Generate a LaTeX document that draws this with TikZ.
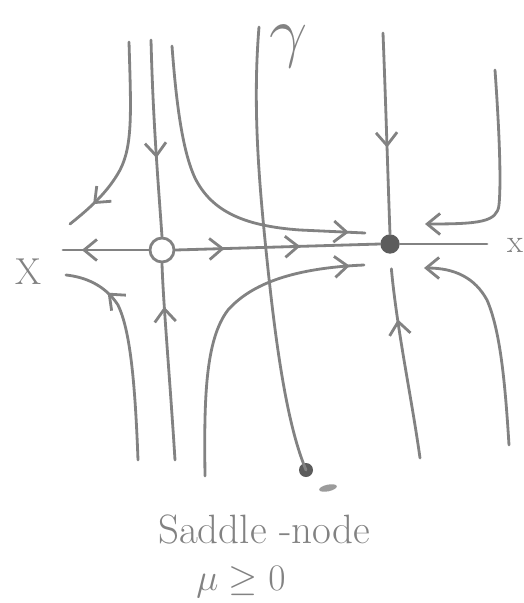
\RequirePackage{fix-cm}
\documentclass[tikz,border=0pt]{standalone}
\usetikzlibrary{arrows.meta,decorations.markings}
\definecolor{pencil}{RGB}{130,130,130}
\definecolor{lead}{RGB}{92,92,92}
\tikzset{
  x=0.03cm, y=-0.03cm,
  barb/.tip={Straight Barb[length=11pt,width=18pt]},
  orbit/.style={draw=pencil, color=pencil, line width=2.4pt, line cap=round, line join=round},
  flowat/.style={postaction={decorate}, decoration={markings,
      mark=at position #1 with {\arrow{barb}}}},
  flowback/.style={postaction={decorate}, decoration={markings,
      mark=at position #1 with {\arrowreversed{barb}}}},
  flowtwo/.style 2 args={postaction={decorate}, decoration={markings,
      mark=at position #1 with {\arrow{barb}},
      mark=at position #2 with {\arrow{barb}}}},
  label/.style={text=pencil, inner sep=0pt},
}
\begin{document}
\begin{tikzpicture}
\useasboundingbox (0,0) rectangle (524,603);

% equilibria: half-stable saddle-node (open) and stable node (filled)
\node[draw=pencil, line width=2.4pt, circle, inner sep=0pt, minimum size=0.72cm] (sn) at (162,250) {};
\node[fill=lead, circle, inner sep=0pt, minimum size=0.58cm] (nd) at (390,244) {};

% ends of the x-axis
\coordinate (xl) at (63,250);
\coordinate (xr) at (487,244);

% x-axis
\draw[orbit, flowback=0.22] (xl) -- (sn.west);
\draw[orbit, flowtwo={0.24}{0.61}] (sn.east) -- (nd.west);
\draw[orbit] (nd.east) -- (xr);

% axis labels
\node[label, font=\fontsize{32}{32}\selectfont] (xlabl) at (28,272) {X};
\node[label, font=\fontsize{28}{28}\selectfont] (xlabr) at (515,245) {x};

% vertical manifolds of the saddle-node
\coordinate (s1) at (151,40);
\coordinate (s2) at (175,460);
\draw[orbit, flowat=0.6] (s1) .. controls (153,120) and (158,180) .. (sn.north);
\draw[orbit, flowat=0.78] (s2) .. controls (170,380) and (163,300) .. (sn.south);

% vertical manifolds of the node
\coordinate (n1) at (383,33);
\coordinate (n2) at (420,458);
\draw[orbit, flowat=0.57] (n1) .. controls (386,110) and (388,180) .. (nd.north);
\draw[orbit, flowat=0.68, shorten >=0.45cm] (n2) .. controls (412,400) and (397,330) .. (nd.south);

% orbit leaving to the upper left
\coordinate (a0) at (129,42);
\coordinate (a1) at (70,224);
\draw[orbit, flowat=0.85] (a0) .. controls (131,110) and (133,145) .. (120,170)
  .. controls (108,192) and (90,208) .. (a1);

% orbit leaving to the lower left
\coordinate (d0) at (138,460);
\coordinate (d1) at (66,275);
\draw[orbit, flowat=0.79] (d0) .. controls (135,380) and (130,330) .. (118,305)
  .. controls (105,285) and (85,277) .. (d1);

% orbit from the top bending into the node
\coordinate (c0) at (172,46);
\coordinate (c1) at (365,233);
\draw[orbit, flowat=0.95] (c0) .. controls (176,100) and (182,150) .. (195,178)
  .. controls (212,212) and (245,226) .. (300,230) -- (c1);

% orbit from below bending into the node
\coordinate (e0) at (205,476);
\coordinate (e1) at (364,265);
\draw[orbit, flowat=0.955] (e0) .. controls (204,400) and (205,340) .. (228,310)
  .. controls (252,283) and (295,268) .. (e1);

% orbits approaching the node from the right
\coordinate (g0) at (495,70);
\coordinate (g1) at (425,224);
\draw[orbit, -{barb}] (g0) .. controls (500,140) and (501,185) .. (499,205)
  .. controls (497,222) and (480,224) .. (g1);
\coordinate (h0) at (509,445);
\coordinate (h1) at (424,268);
\draw[orbit, -{barb}] (h0) .. controls (505,380) and (500,330) .. (487,300)
  .. controls (475,278) and (455,268) .. (h1);

% the curve gamma
\node[fill=lead, circle, inner sep=0pt, minimum size=0.42cm] (blob) at (306,470) {};
\coordinate (y0) at (259,27);
\draw[orbit] (y0) .. controls (253,100) and (258,170) .. (265,240)
  .. controls (274,330) and (285,420) .. (blob.center);
\fill[pencil!80] (328,488) ellipse [x radius=0.27cm, y radius=0.1cm, rotate=12];
\node[label, font=\fontsize{58}{58}\selectfont] (gam) at (289,46) {$\gamma$};

% caption
\node[label, anchor=base, font=\fontsize{35}{40}\selectfont] (cap1) at (264,543) {Saddle -node};
\node[label, anchor=base, font=\fontsize{32}{36}\selectfont] (cap2) at (241,590) {$\mu \geq 0$};
\end{tikzpicture}
\end{document}
